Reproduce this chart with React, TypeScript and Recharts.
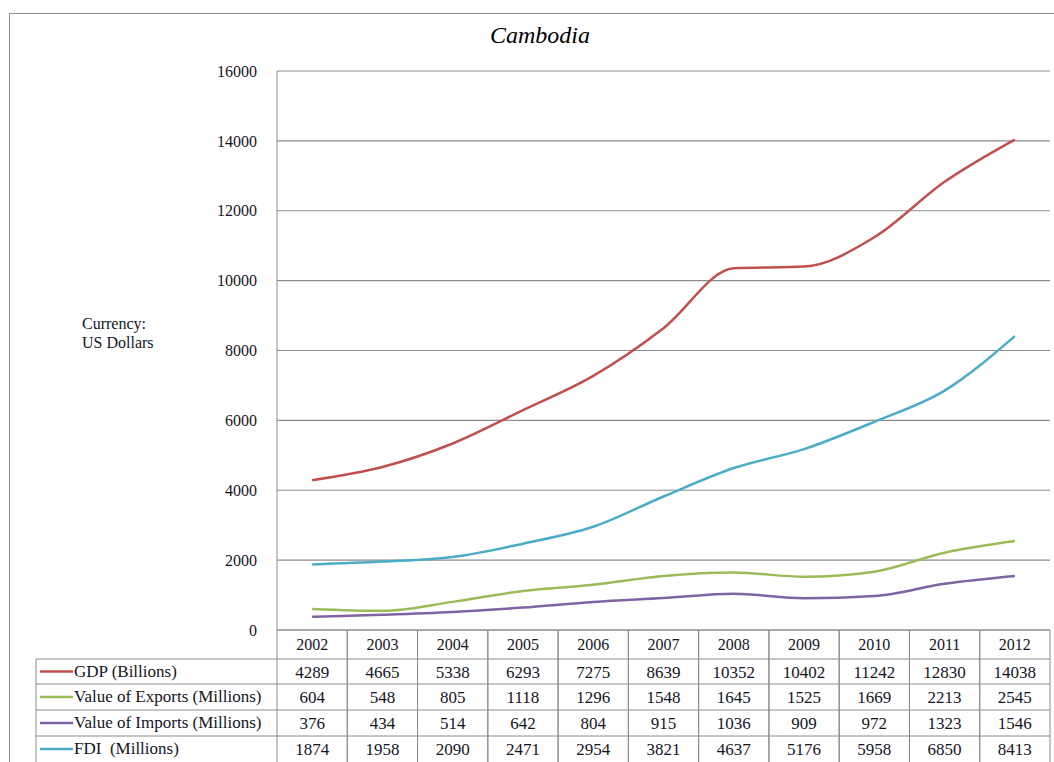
import { LineChart, Line, XAxis, YAxis, CartesianGrid } from 'recharts';

const years = ['2002', '2003', '2004', '2005', '2006', '2007', '2008', '2009', '2010', '2011', '2012'];
const gdp = [4289, 4665, 5338, 6293, 7275, 8639, 10352, 10402, 11242, 12830, 14038];
const exportsM = [604, 548, 805, 1118, 1296, 1548, 1645, 1525, 1669, 2213, 2545];
const importsM = [376, 434, 514, 642, 804, 915, 1036, 909, 972, 1323, 1546];
const fdi = [1874, 1958, 2090, 2471, 2954, 3821, 4637, 5176, 5958, 6850, 8413];
const yTicks = [0, 2000, 4000, 6000, 8000, 10000, 12000, 14000, 16000];

const series = [
  { key: 'gdp', name: 'GDP (Billions)', color: '#c0504d', values: gdp },
  { key: 'exp', name: 'Value of Exports (Millions)', color: '#9bbb59', values: exportsM },
  { key: 'imp', name: 'Value of Imports (Millions)', color: '#8064a2', values: importsM },
  { key: 'fdi', name: 'FDI  (Millions)', color: '#4bacc6', values: fdi },
];

const data = years.map((year, i) => ({
  year,
  gdp: gdp[i],
  exp: exportsM[i],
  imp: importsM[i],
  fdi: fdi[i],
}));

const FONT = '"Liberation Serif", "DejaVu Serif", serif';
const GRID = '#8c8c8c';
const TEXT = '#15151f';
const COL_W = 773 / 11;
// table row edges below the axis (axis sits at y=630)
const ROWS = [630, 659, 684, 710, 736, 762];

function TableTick(props: any) {
  const { x, payload } = props;
  const i = years.indexOf(String(payload.value));
  const top = ROWS[0];
  return (
    <g>
      <line x1={x - COL_W / 2} x2={x - COL_W / 2} y1={top} y2={762} stroke={GRID} />
      <line x1={x + COL_W / 2} x2={x + COL_W / 2} y1={top} y2={762} stroke={GRID} />
      <text x={x} y={(ROWS[0] + ROWS[1]) / 2 + 5} textAnchor="middle" fontFamily={FONT} fontSize={16} fill={TEXT}>
        {payload.value}
      </text>
      {series.map((s, r) => (
        <text
          key={s.key}
          x={x}
          y={(ROWS[r + 1] + ROWS[r + 2]) / 2 + 6}
          textAnchor="middle"
          fontFamily={FONT}
          fontSize={17}
          fill={TEXT}
        >
          {s.values[i]}
        </text>
      ))}
    </g>
  );
}

export default function App() {
  return (
    <div style={{ position: 'absolute', left: 0, top: 0, width: 1054, height: 762, overflow: 'hidden', background: '#fff' }}>
      <div style={{ position: 'absolute', left: 9, top: 13, width: 1200, height: 900, border: `1px solid ${GRID}` }} />
      <div
        style={{
          position: 'absolute', left: 0, width: 1080, top: 22, textAlign: 'center',
          fontFamily: FONT, fontStyle: 'italic', fontSize: 24, color: '#000',
        }}
      >
        Cambodia
      </div>
      <div style={{ position: 'absolute', left: 82, top: 314, fontFamily: FONT, fontSize: 16, lineHeight: '19px', color: TEXT }}>
        Currency:
        <br />
        US Dollars
      </div>
      <LineChart
        width={1054}
        height={762}
        data={data}
        margin={{ top: 71, right: 4, bottom: 0, left: 207 }}
        style={{ position: 'absolute', left: 0, top: 0 }}
      >
        <CartesianGrid vertical={false} stroke={GRID} strokeWidth={1.2} />
        <XAxis
          dataKey="year"
          height={132}
          interval={0}
          padding={{ left: COL_W / 2, right: COL_W / 2 }}
          axisLine={{ stroke: GRID }}
          tickLine={false}
          tick={<TableTick />}
        />
        <YAxis
          width={70}
          domain={[0, 16000]}
          ticks={yTicks}
          axisLine={{ stroke: GRID }}
          tickLine={false}
          tickMargin={14}
          tick={{ fontFamily: FONT, fontSize: 16, fill: TEXT }}
        />
        {series.map((s) => (
          <Line
            key={s.key}
            type="monotone"
            dataKey={s.key}
            stroke={s.color}
            strokeWidth={2.5}
            dot={false}
            isAnimationActive={false}
          />
        ))}
      </LineChart>
      <svg width={1054} height={762} style={{ position: 'absolute', left: 0, top: 0, pointerEvents: 'none' }}>
        {ROWS.slice(1, 5).map((y) => (
          <line key={y} x1={36} x2={1050} y1={y} y2={y} stroke={GRID} />
        ))}
        <line x1={36} x2={36} y1={ROWS[1]} y2={762} stroke={GRID} />
        {series.map((s, r) => {
          const cy = (ROWS[r + 1] + ROWS[r + 2]) / 2;
          return (
            <g key={s.key}>
              <line x1={40} x2={73} y1={cy} y2={cy} stroke={s.color} strokeWidth={2.5} />
              <text x={74} y={cy + 5} fontFamily={FONT} fontSize={17} fill={TEXT} style={{ whiteSpace: 'pre' }}>
                {s.name}
              </text>
            </g>
          );
        })}
      </svg>
    </div>
  );
}
